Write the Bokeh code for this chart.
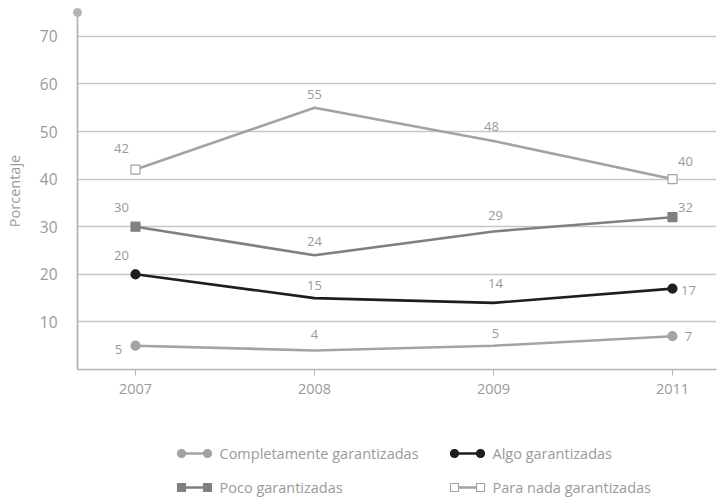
from bokeh.plotting import figure
from bokeh.layouts import column
from bokeh.models import FixedTicker, Range1d, ColumnDataSource
from bokeh.core.properties import value
from bokeh.embed import file_html
from bokeh.resources import INLINE

years = ["2007", "2008", "2009", "2011"]
completamente = [5, 4, 5, 7]
algo = [20, 15, 14, 17]
poco = [30, 24, 29, 32]
para_nada = [42, 55, 48, 40]
y_ticks = [10, 20, 30, 40, 50, 60, 70]
series_names = ["Completamente garantizadas", "Algo garantizadas",
                "Poco garantizadas", "Para nada garantizadas"]

# label offsets (screen px), style only
off_comp = [(-17, 4), (0, -16), (2, -12), (16, 0)]
off_algo = [(-14, -19), (0, -13), (2, -19), (16, 2)]
off_poco = [(-14, -19), (0, -14), (2, -16), (13, -10)]
off_para = [(-14, -21), (0, -13), (-2, -15), (13, -18)]

FONT = "Open Sans"
TXT = "#9a9a9a"
AX = "#b4b4b4"
GRID = "#c6c6c6"
C_COMP = "#a3a3a3"
C_ALGO = "#1e1e1e"
C_POCO = "#808080"
C_PARA = "#a3a3a3"

xpos = list(range(len(years)))
x_start, x_end = -0.324, 3.246
y_start, y_end = 0, 75

BL, BR = 77, 8

p = figure(width=724, height=420, x_range=Range1d(x_start, x_end),
           y_range=Range1d(y_start, y_end), output_backend="svg",
           toolbar_location=None, min_border_left=BL, min_border_right=BR,
           min_border_top=12, min_border_bottom=51)
p.outline_line_color = None
p.background_fill_color = "white"

p.xgrid.visible = False
p.ygrid.ticker = FixedTicker(ticks=y_ticks)
p.ygrid.grid_line_color = GRID
p.ygrid.grid_line_width = 1.3

p.xaxis.ticker = FixedTicker(ticks=xpos)
p.xaxis.major_label_overrides = {i: y for i, y in zip(xpos, years)}
p.xaxis.axis_line_color = AX
p.xaxis.axis_line_width = 1.5
p.xaxis.major_tick_line_color = AX
p.xaxis.major_tick_out = 6
p.xaxis.major_tick_in = 0
p.xaxis.minor_tick_line_color = None
p.xaxis.major_label_text_color = TXT
p.xaxis.major_label_text_font = FONT
p.xaxis.major_label_text_font_size = "14.5px"
p.xaxis.major_label_standoff = 8

p.yaxis.ticker = FixedTicker(ticks=y_ticks)
p.yaxis.axis_line_color = AX
p.yaxis.axis_line_width = 1.8
p.yaxis.major_tick_line_color = None
p.yaxis.major_tick_out = 0
p.yaxis.major_tick_in = 0
p.yaxis.minor_tick_line_color = None
p.yaxis.minor_tick_out = 0
p.yaxis.major_label_text_color = TXT
p.yaxis.major_label_text_font = FONT
p.yaxis.major_label_text_font_size = "15.5px"
p.yaxis.major_label_standoff = 20
p.yaxis.axis_label = "Porcentaje"
p.yaxis.axis_label_text_color = TXT
p.yaxis.axis_label_text_font = FONT
p.yaxis.axis_label_text_font_size = "14.5px"
p.yaxis.axis_label_text_font_style = "normal"
p.yaxis.axis_label_standoff = 13

# dot at the top of the y axis
p.scatter([x_start], [y_end], marker="circle", size=8, fill_color=AX,
          line_color=AX, level="overlay")

def draw(vals, color, marker, fill, offs, width=2.6):
    p.line(xpos, vals, line_color=color, line_width=width)
    ends = [0, len(vals) - 1]
    p.scatter([xpos[i] for i in ends], [vals[i] for i in ends], marker=marker,
              size=9, fill_color=fill, line_color=color, line_width=1.2)
    src = ColumnDataSource(dict(x=xpos, y=vals, t=[str(v) for v in vals],
                                xo=[o[0] for o in offs], yo=[o[1] for o in offs]))
    p.text(x="x", y="y", text="t", x_offset="xo", y_offset="yo", source=src,
           text_align="center", text_baseline="middle", text_color=TXT,
           text_font=value(FONT), text_font_size="13px",
           background_fill_color="white")

draw(completamente, C_COMP, "circle", C_COMP, off_comp)
draw(algo, C_ALGO, "circle", C_ALGO, off_algo)
draw(poco, C_POCO, "square", C_POCO, off_poco)
draw(para_nada, C_PARA, "square", "white", off_para)

# legend panel (x in page pixels, frame aligned with the main plot)
lg = figure(width=724, height=78, x_range=Range1d(BL, 724 - BR), y_range=Range1d(78, 0),
            output_backend="svg", toolbar_location=None,
            x_axis_location=None, y_axis_location=None,
            min_border_left=BL, min_border_right=BR,
            min_border_top=0, min_border_bottom=0)
lg.grid.visible = False
lg.outline_line_color = None

entries = [
    (series_names[0], C_COMP, "circle", C_COMP, 181, 33),
    (series_names[1], C_ALGO, "circle", C_ALGO, 454, 33),
    (series_names[2], C_POCO, "square", C_POCO, 181, 67),
    (series_names[3], C_PARA, "square", "white", 454, 67),
]
for name, col, mk, fill, x0, y0 in entries:
    lg.segment(x0=[x0], y0=[y0], x1=[x0 + 26], y1=[y0], line_color=col, line_width=2.6)
    lg.scatter([x0, x0 + 26], [y0, y0], marker=mk, size=8, fill_color=fill,
               line_color=col, line_width=1.2)
    lg.text(x=[x0 + 38], y=[y0], text=[name], text_align="left", text_baseline="middle",
            text_color=TXT, text_font=value(FONT), text_font_size="14.5px")

layout = column(p, lg, spacing=0)
open("out.html", "w").write(file_html(layout, INLINE))
